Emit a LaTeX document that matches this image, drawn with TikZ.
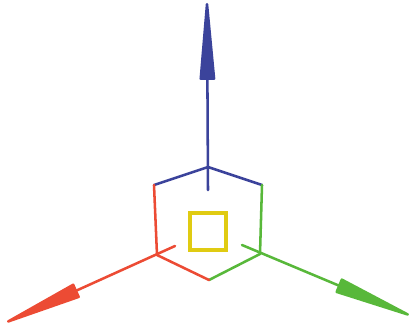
\documentclass[tikz,border=0pt]{standalone}
\usepackage{xcolor}
\usetikzlibrary{arrows.meta}
\definecolor{axisblue}{HTML}{3B439B}
\definecolor{axisred}{HTML}{EC4B34}
\definecolor{axisgreen}{HTML}{58B83A}
\definecolor{boxyellow}{HTML}{E0CB12}

\begin{document}
\begin{tikzpicture}[
    x=0.75pt, y=-0.75pt,
    edge/.style={line width=1.9pt, line cap=round, line join=round},
    axis/.style={edge, -{Triangle[length=68pt, width=11.5pt, round]}}
]
  \useasboundingbox (0,0) rectangle (409,328);

  % Corners of the hexagon
  \coordinate (top) at (208,167);
  \coordinate (upleft) at (154,185);
  \coordinate (upright) at (262,185);
  \coordinate (lowleft) at (157,255);
  \coordinate (lowright) at (260,254);
  \coordinate (bottom) at (209,280);

  % Axis ends
  \coordinate (blueend) at (208,190);
  \coordinate (bluetip) at (207,3);
  \coordinate (redend) at (175,246);
  \coordinate (redtip) at (7,322);
  \coordinate (greenend) at (242,245);
  \coordinate (greentip) at (409,315);

  % Hexagon
  \draw[edge, axisblue] (upleft) -- (top) -- (upright);
  \draw[edge, axisgreen] (upright) -- (lowright) -- (bottom);
  \draw[edge, axisred] (bottom) -- (lowleft) -- (upleft);

  % Axes
  \draw[axis, axisblue] (blueend) -- (bluetip);
  \draw[axis, axisred] (redend) -- (redtip);
  \draw[axis, axisgreen] (greenend) -- (greentip);

  % Square
  \node[draw=boxyellow, line width=3pt, minimum size=27.5pt, inner sep=0pt] (square) at (208,231.5) {};
\end{tikzpicture}
\end{document}
